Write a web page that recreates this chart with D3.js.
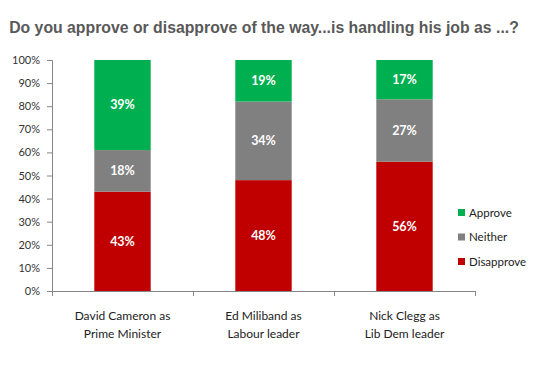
<!DOCTYPE html>
<html>
<head>
<meta charset="utf-8">
<script src="https://cdn.jsdelivr.net/npm/d3@7"></script>
<style>
  body { margin: 0; background: #fff; }
  svg { display: block; }
</style>
</head>
<body>
<svg id="chart" width="550" height="370"></svg>
<script>
'use strict';

var categories = [['David Cameron as', 'Prime Minister'], ['Ed Miliband as', 'Labour leader'], ['Nick Clegg as', 'Lib Dem leader']];
var seriesNames = ['Disapprove', 'Neither', 'Approve'];
var disapprove = [43, 48, 56];
var neither = [18, 34, 27];
var approve = [39, 19, 17];
var yTicks = [0, 10, 20, 30, 40, 50, 60, 70, 80, 90, 100];
var colors = { Disapprove: '#c00000', Neither: '#808080', Approve: '#00b050' };

(function() {
  var svg = d3.select('#chart');
  var left = 52, right = 475, top = 60, bottom = 291;

  var x = d3.scaleBand().domain(d3.range(categories.length)).range([left, right]).paddingInner(0.6).paddingOuter(0.3);
  var xb = d3.scaleBand().domain(d3.range(categories.length)).range([left, right]);
  var y = d3.scaleLinear().domain([0, 100]).range([bottom, top]);

  // bars stacking above 100% get cut at the top of the plot, as in the source chart
  svg.append('clipPath').attr('id', 'plot-clip')
    .append('rect').attr('x', left).attr('y', top).attr('width', right - left).attr('height', bottom - top);

  svg.append('text')
    .attr('x', 264).attr('y', 33)
    .attr('text-anchor', 'middle')
    .style('font-family', 'Liberation Sans, Arial, sans-serif')
    .style('font-size', '15.8px').style('font-weight', 'bold')
    .style('fill', '#595959')
    .text('Do you approve or disapprove of the way...is handling his job as ...?');

  // y axis
  var yAxis = svg.append('g').attr('transform', 'translate(' + left + ',0)')
    .call(d3.axisLeft(y).tickValues(yTicks).tickSize(5).tickFormat(function(d) { return d + '%'; }));
  yAxis.select('.domain').attr('stroke', '#868686');
  yAxis.selectAll('.tick line').attr('stroke', '#868686');
  yAxis.selectAll('.tick text')
    .attr('x', -12)
    .style('font-family', 'Lato, Carlito, sans-serif').style('font-size', '11px').style('fill', '#333');

  var stack = [];
  categories.forEach(function(c, i) {
    var vals = { Disapprove: disapprove[i], Neither: neither[i], Approve: approve[i] };
    var base = 0;
    seriesNames.forEach(function(s) {
      stack.push({ i: i, s: s, y0: base, y1: base + vals[s], v: vals[s] });
      base += vals[s];
    });
  });

  var bars = svg.append('g');
  bars.append('g').attr('clip-path', 'url(#plot-clip)')
    .selectAll('rect').data(stack).enter().append('rect')
    .attr('x', function(d) { return x(d.i); })
    .attr('width', x.bandwidth())
    .attr('y', function(d) { return y(d.y1); })
    .attr('height', function(d) { return y(d.y0) - y(d.y1); })
    .attr('fill', function(d) { return colors[d.s]; });

  bars.selectAll('text').data(stack).enter().append('text')
    .attr('x', function(d) { return x(d.i) + x.bandwidth() / 2; })
    .attr('y', function(d) { return y((d.y0 + Math.min(d.y1, 100)) / 2); })
    .attr('dy', '0.35em')
    .attr('text-anchor', 'middle')
    .style('font-family', 'Lato, sans-serif').style('font-size', '12.5px').style('font-weight', 'bold')
    .style('fill', '#fff')
    .text(function(d) { return d.v + '%'; });

  // x axis
  var xg = svg.append('g');
  xg.append('line').attr('x1', left).attr('x2', right).attr('y1', bottom + 0.5).attr('y2', bottom + 0.5).attr('stroke', '#868686');
  xg.selectAll('line.tick').data(d3.range(categories.length + 1)).enter().append('line')
    .attr('class', 'tick')
    .attr('x1', function(d) { return Math.round(left + d * xb.step()) + 0.5; })
    .attr('x2', function(d) { return Math.round(left + d * xb.step()) + 0.5; })
    .attr('y1', bottom).attr('y2', bottom + 5).attr('stroke', '#868686');

  var lab = xg.selectAll('text').data(categories).enter().append('text')
    .attr('text-anchor', 'middle')
    .style('font-family', 'Lato, sans-serif').style('font-size', '12px').style('fill', '#222');
  lab.selectAll('tspan').data(function(d, i) { return d.map(function(t) { return { t: t, i: i }; }); })
    .enter().append('tspan')
    .attr('x', function(d) { return xb(d.i) + xb.bandwidth() / 2; })
    .attr('y', function(d, j) { return 320 + j * 17.5; })
    .text(function(d) { return d.t; });

  // legend
  var legendOrder = ['Approve', 'Neither', 'Disapprove'];
  var lg = svg.append('g').selectAll('g').data(legendOrder).enter().append('g')
    .attr('transform', function(d, i) { return 'translate(458,' + (209 + i * 24.5) + ')'; });
  lg.append('rect').attr('width', 7).attr('height', 7).attr('fill', function(d) { return colors[d]; });
  lg.append('text').attr('x', 11).attr('y', 3.5).attr('dy', '0.35em')
    .style('font-family', 'Lato, sans-serif').style('font-size', '11.5px').style('fill', '#222')
    .text(function(d) { return d; });
}());
</script>
</body>
</html>
